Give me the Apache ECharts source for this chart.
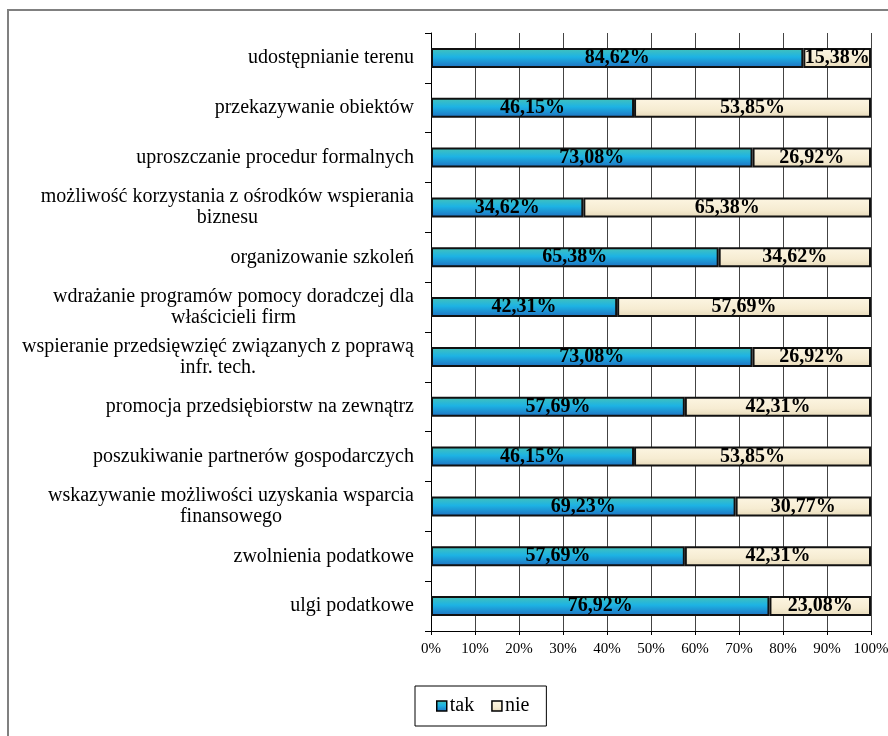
<!DOCTYPE html>
<html>
<head>
<meta charset="utf-8">
<script src="https://cdn.jsdelivr.net/npm/echarts@6/dist/echarts.min.js"></script>
<style>
html,body{margin:0;padding:0;background:#fff;}
#chart{width:888px;height:736px;}
</style>
</head>
<body>
<div id="chart"></div>
<script>
const categories = [
  'udostępnianie terenu',
  'przekazywanie obiektów',
  'uproszczanie procedur formalnych',
  'możliwość korzystania z ośrodków wspierania\nbiznesu',
  'organizowanie szkoleń',
  'wdrażanie programów pomocy doradczej dla\nwłaścicieli firm',
  'wspieranie przedsięwzięć związanych z poprawą\ninfr. tech.',
  'promocja przedsiębiorstw na zewnątrz',
  'poszukiwanie partnerów gospodarczych',
  'wskazywanie możliwości uzyskania wsparcia\nfinansowego',
  'zwolnienia podatkowe',
  'ulgi podatkowe'
];
const takValues = [84.62, 46.15, 73.08, 34.62, 65.38, 42.31, 73.08, 57.69, 46.15, 69.23, 57.69, 76.92];
const nieValues = [15.38, 53.85, 26.92, 65.38, 34.62, 57.69, 26.92, 42.31, 53.85, 30.77, 42.31, 23.08];
const seriesNames = ['tak', 'nie'];

const serif = '"Liberation Serif", "Times New Roman", serif';
const chart = echarts.init(document.getElementById('chart'));

const takGradient = new echarts.graphic.LinearGradient(0, 0, 0, 1, [
  {offset: 0, color: '#46c3b6'},
  {offset: 0.45, color: '#1db3e4'},
  {offset: 1, color: '#1f6fc0'}
]);
const nieGradient = new echarts.graphic.LinearGradient(0, 0, 0, 1, [
  {offset: 0, color: '#fdf6e3'},
  {offset: 0.6, color: '#f6ecd2'},
  {offset: 1, color: '#e6d9b8'}
]);

const fmt = p => p.value.toFixed(2).replace('.', ',') + '%';

chart.setOption({
  backgroundColor: '#fff',
  animation: false,
  graphic: [{
    type: 'rect',
    shape: {x: 8, y: 10, width: 900, height: 760},
    style: {fill: 'none', stroke: '#808080', lineWidth: 2},
    silent: true
  }],
  grid: {left: 431, right: 17, top: 33, bottom: 105, outerBoundsMode: 'none', containLabel: false},
  legend: {
    data: seriesNames,
    left: 415,
    top: 686,
    orient: 'horizontal',
    borderColor: '#000',
    borderWidth: 1,
    padding: [10, 17, 10, 21],
    itemWidth: 10,
    itemHeight: 10,
    itemGap: 17,
    icon: 'rect',
    itemStyle: {borderColor: '#000', borderWidth: 1.5},
    textStyle: {fontFamily: serif, fontSize: 20, color: '#000', padding: [0, 0, 0, -2]}
  },
  xAxis: {
    type: 'value',
    min: 0,
    max: 100,
    interval: 10,
    axisLine: {show: true, lineStyle: {color: '#000', width: 1}},
    axisTick: {show: true, length: 4, lineStyle: {color: '#000'}},
    splitLine: {show: true, lineStyle: {color: '#444', width: 1}},
    axisLabel: {
      formatter: v => v + '%',
      fontFamily: serif,
      fontSize: 15,
      color: '#000',
      margin: 11,
      hideOverlap: false
    }
  },
  yAxis: {
    type: 'category',
    data: categories,
    inverse: true,
    axisLine: {show: true, lineStyle: {color: '#000', width: 1}},
    axisTick: {show: true, length: 6, lineStyle: {color: '#000'}},
    axisLabel: {
      fontFamily: serif,
      fontSize: 20,
      color: '#000',
      margin: 17,
      align: 'right',
      formatter: v => v.split('\n').map(s => '{a|' + s + '}').join('\n'),
      rich: {a: {align: 'center', fontFamily: serif, fontSize: 20, color: '#000', lineHeight: 21}}
    }
  },
  series: [
    {
      name: 'tak',
      type: 'bar',
      stack: 'all',
      barWidth: 20,
      data: takValues,
      itemStyle: {color: takGradient, borderColor: '#111', borderWidth: 2},
      label: {show: true, position: 'inside', formatter: fmt, fontFamily: serif, fontWeight: 'bold', fontSize: 20, color: '#000'}
    },
    {
      name: 'nie',
      type: 'bar',
      stack: 'all',
      barWidth: 20,
      data: nieValues,
      itemStyle: {color: nieGradient, borderColor: '#111', borderWidth: 2},
      label: {show: true, position: 'inside', formatter: fmt, fontFamily: serif, fontWeight: 'bold', fontSize: 20, color: '#000'}
    }
  ]
});
</script>
</body>
</html>
